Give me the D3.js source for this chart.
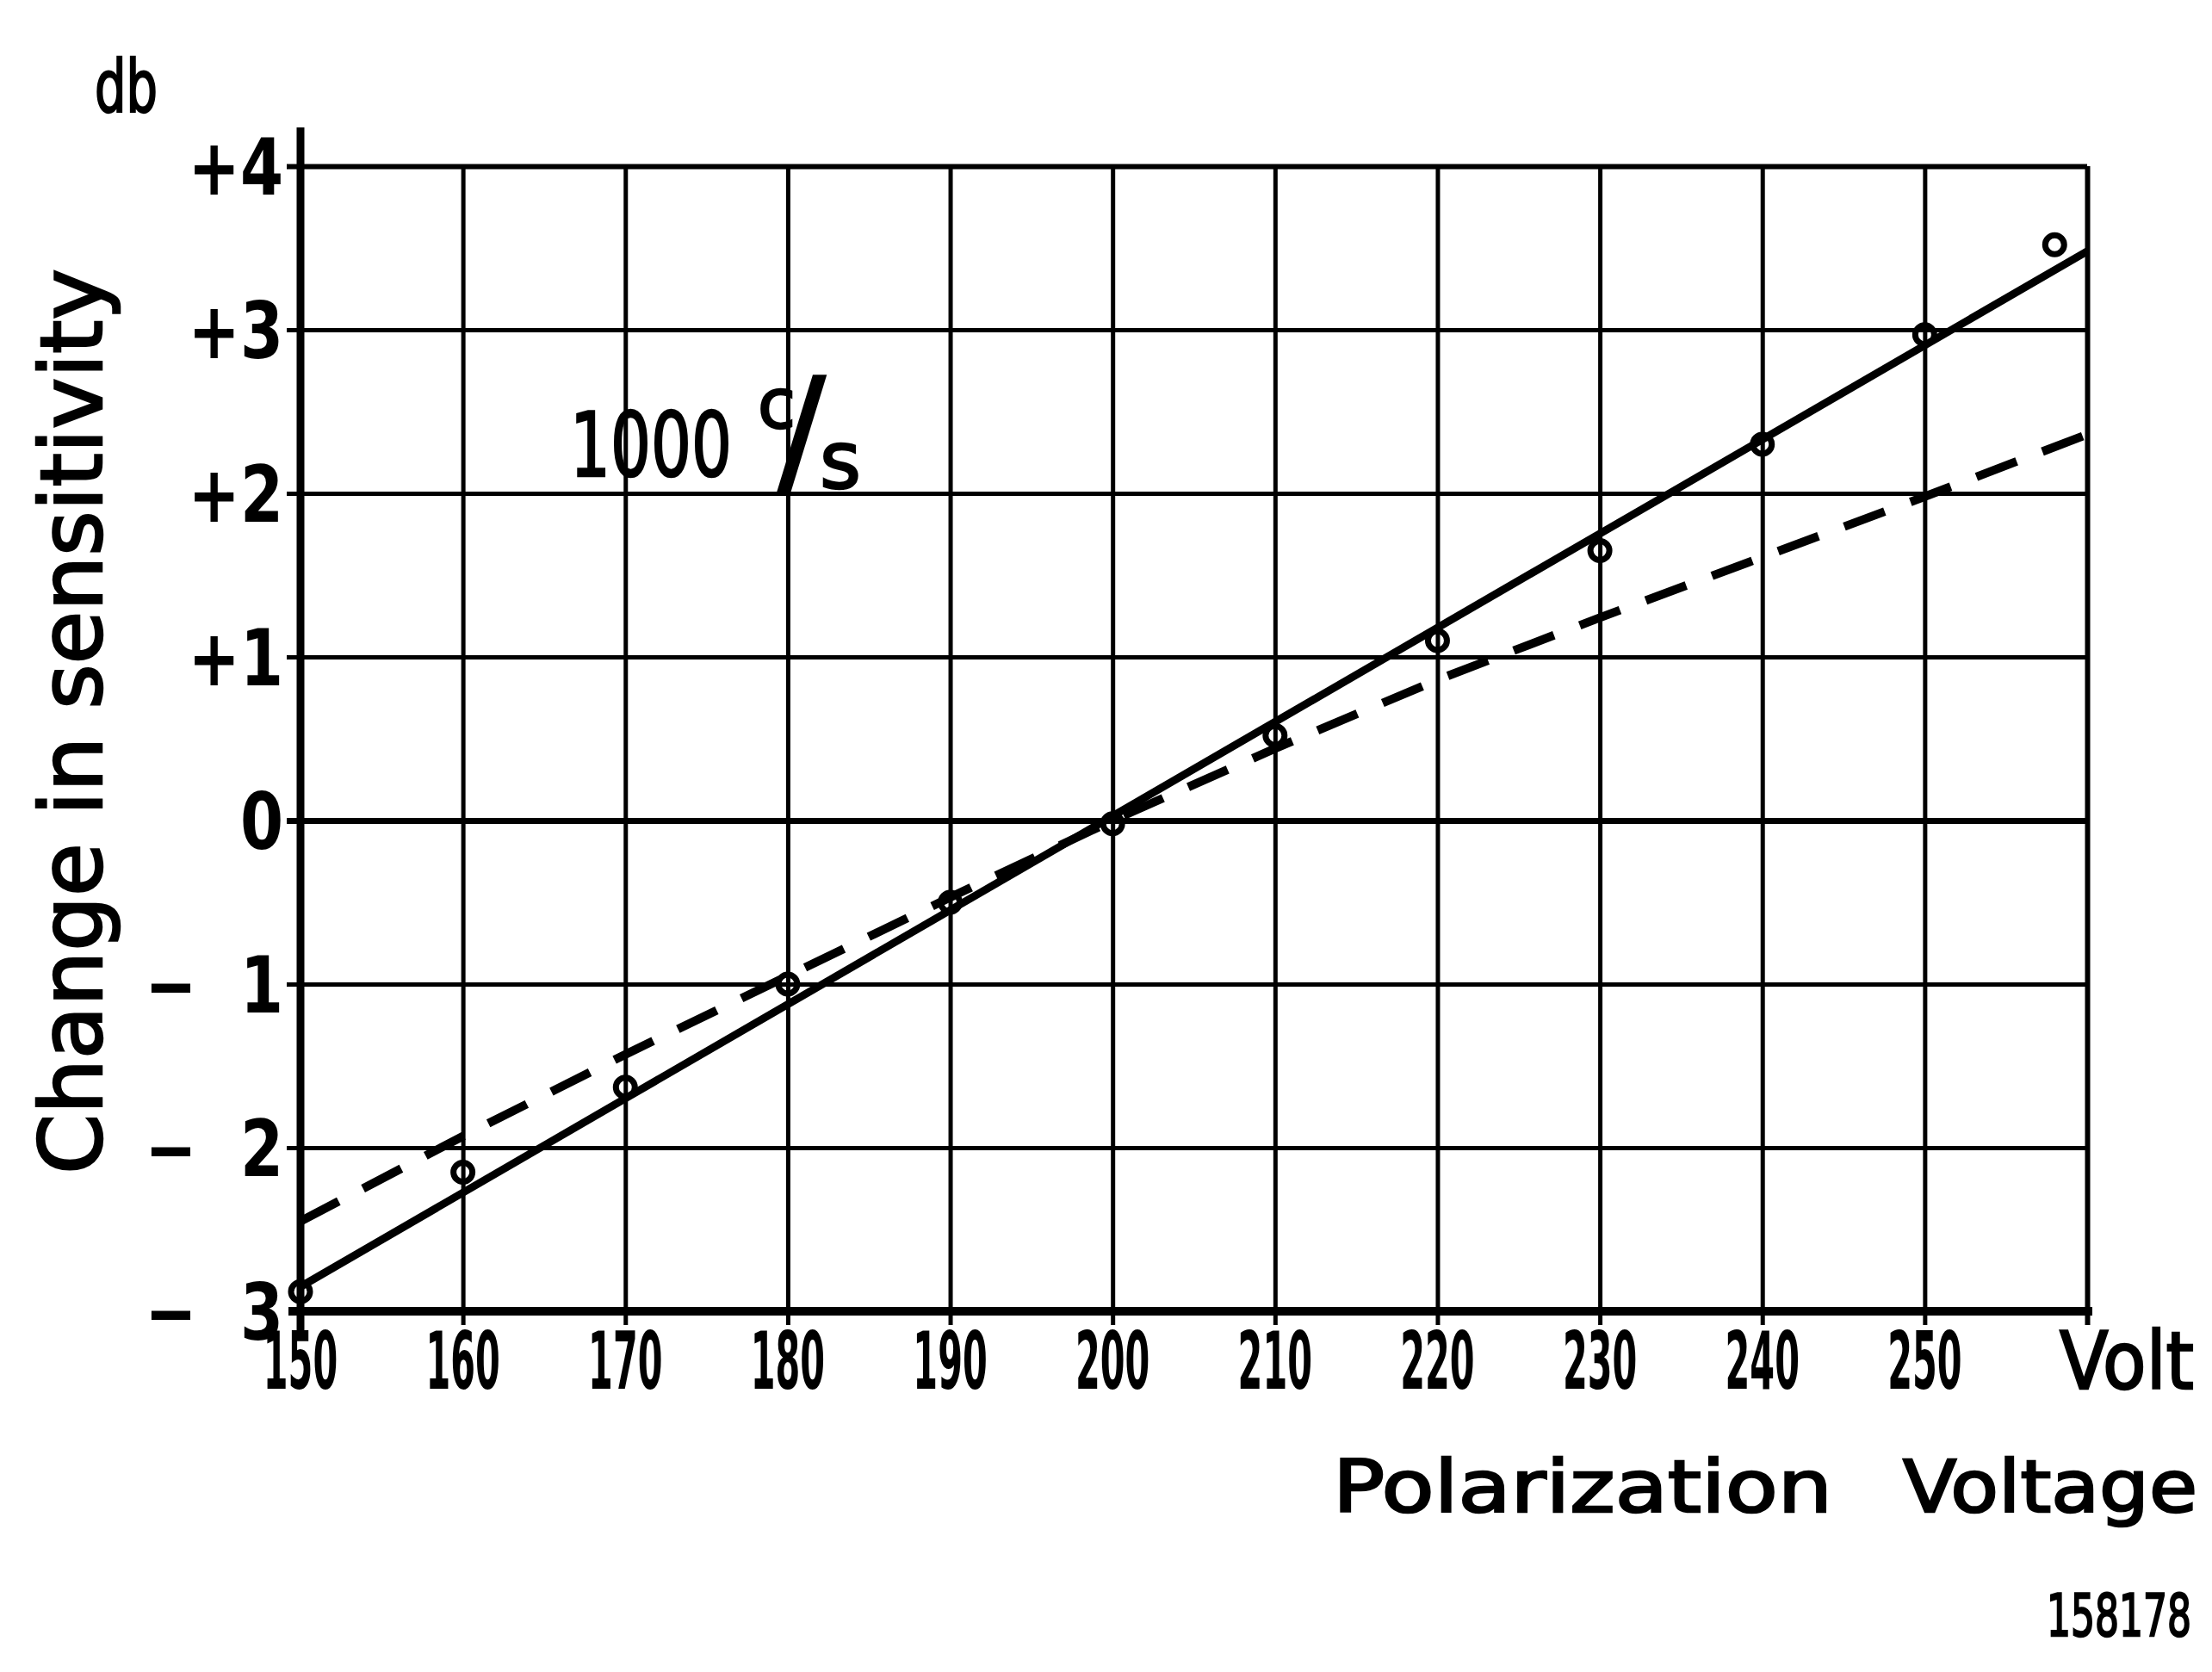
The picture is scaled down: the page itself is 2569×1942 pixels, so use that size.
<!DOCTYPE html>
<html>
<head>
<meta charset="utf-8">
<script src="https://cdn.jsdelivr.net/npm/d3@7"></script>
<style>
  body { margin: 0; background: #fff; }
  text { font-family: "DejaVu Sans", sans-serif; fill: #000; font-weight: bold; }
  text.med { font-weight: normal; stroke: #000; stroke-width: 2.5px; }
</style>
</head>
<body>
<div id="chart"></div>
<script>
(function() {
    const width = 2569,
          height = 1942;

    // ticks
    const voltTicks = [150, 160, 170, 180, 190, 200, 210, 220, 230, 240, 250];
    const dbTicks = [-3, -2, -1, 0, 1, 2, 3, 4];

    // measured points (circles)
    const measuredVolt = [150, 160, 170, 180, 190, 200, 210, 220, 230, 240, 250, 258];
    const measuredDb = [-2.88, -2.15, -1.63, -1.0, -0.5, -0.02, 0.52, 1.10, 1.65, 2.30, 2.97, 3.52];

    // solid straight line
    const solidVolt = [150, 260];
    const solidDb = [-2.85, 3.48];

    // dashed line
    const dashVolt = [150, 160, 170, 180, 190, 200, 210, 220, 230, 240, 250, 260];
    const dashDb = [-2.45, -1.93, -1.43, -0.95, -0.47, 0.0, 0.44, 0.86, 1.24, 1.61, 1.98, 2.36];

    const x = d3.scaleLinear().domain([150, 260]).range([349, 2424]);
    const y = d3.scaleLinear().domain([-3, 4]).range([1523, 193]);

    const svg = d3.select("#chart")
        .append("svg")
        .attr("width", width)
        .attr("height", height)
        .style("background", "#fff");

    // vertical grid lines (incl. right border at 260)
    const xGrid = svg.append("g")
        .attr("transform", `translate(0,${y(-3)})`)
        .call(d3.axisBottom(x)
            .tickValues(voltTicks.slice(1).concat([260]))
            .tickSize(-(y(-3) - y(4)))
            .tickFormat(""));
    xGrid.select(".domain").remove();
    xGrid.selectAll("line")
        .attr("y1", 16)
        .attr("stroke", "#000")
        .attr("stroke-width", d => d === 260 ? 6 : 5);

    // horizontal grid lines
    const yGrid = svg.append("g")
        .attr("transform", `translate(${x(150)},0)`)
        .call(d3.axisLeft(y)
            .tickValues(dbTicks.slice(1))
            .tickSize(-(x(260) - x(150)))
            .tickFormat(""));
    yGrid.select(".domain").remove();
    yGrid.selectAll("line")
        .attr("x1", -16)
        .attr("stroke", "#000")
        .attr("stroke-width", d => d === 0 ? 7 : d === 4 ? 6 : 5);

    // main axes
    svg.append("line")
        .attr("x1", x(150)).attr("x2", x(150))
        .attr("y1", y(4) - 45).attr("y2", y(-3) + 22)
        .attr("stroke", "#000").attr("stroke-width", 9);
    svg.append("line")
        .attr("x1", x(150) - 14).attr("x2", x(260) + 6)
        .attr("y1", y(-3)).attr("y2", y(-3))
        .attr("stroke", "#000").attr("stroke-width", 10);

    // lines
    const line = d3.line().x(d => x(d[0])).y(d => y(d[1]));
    svg.append("path")
        .datum(solidVolt.map((v, i) => [v, solidDb[i]]))
        .attr("d", line)
        .attr("fill", "none")
        .attr("stroke", "#000")
        .attr("stroke-width", 9);
    svg.append("path")
        .datum(dashVolt.map((v, i) => [v, dashDb[i]]))
        .attr("d", line)
        .attr("fill", "none")
        .attr("stroke", "#000")
        .attr("stroke-width", 10)
        .attr("stroke-dasharray", "50,32");

    // measured circles
    svg.selectAll(".pt")
        .data(measuredVolt.map((v, i) => [v, measuredDb[i]]))
        .enter().append("circle")
        .attr("class", "pt")
        .attr("cx", d => x(d[0]))
        .attr("cy", d => y(d[1]))
        .attr("r", 11)
        .attr("fill", "none")
        .attr("stroke", "#000")
        .attr("stroke-width", 7);

    // x tick labels
    svg.selectAll(".xlab")
        .data(voltTicks)
        .enter().append("text")
        .attr("class", "xlab")
        .attr("text-anchor", "middle")
        .attr("transform", d => `translate(${x(d)},1613) scale(0.45,1)`)
        .attr("font-size", 92)
        .text(d => d);
    svg.append("text")
        .attr("class", "med")
        .attr("x", 2392).attr("y", 1613)
        .attr("font-size", 92)
        .attr("textLength", 156).attr("lengthAdjust", "spacingAndGlyphs")
        .text("Volt");

    // y tick labels
    const yFmt = d => d > 0 ? "+" + d : d < 0 ? "\u2212\u2002\u2009" + (-d) : "0";
    svg.selectAll(".ylab")
        .data(dbTicks)
        .enter().append("text")
        .attr("class", "ylab")
        .attr("text-anchor", "end")
        .attr("transform", d => `translate(${x(150) - 20},${y(d) + 33}) scale(0.8,1)`)
        .attr("font-size", 90)
        .text(yFmt);

    // unit and titles
    svg.append("text")
        .attr("class", "med")
        .attr("x", 110).attr("y", 130)
        .attr("font-size", 84)
        .attr("textLength", 73).attr("lengthAdjust", "spacingAndGlyphs")
        .text("db");

    svg.append("text")
        .attr("class", "med")
        .attr("transform", "translate(118,838) rotate(-90)")
        .attr("text-anchor", "middle")
        .attr("font-size", 100)
        .attr("textLength", 1052).attr("lengthAdjust", "spacingAndGlyphs")
        .text("Change in sensitivity");

    svg.append("text")
        .attr("class", "med")
        .attr("x", 1548).attr("y", 1756)
        .attr("font-size", 84)
        .attr("textLength", 580).attr("lengthAdjust", "spacingAndGlyphs")
        .text("Polarization");
    svg.append("text")
        .attr("class", "med")
        .attr("x", 2552).attr("y", 1756)
        .attr("text-anchor", "end")
        .attr("font-size", 84)
        .attr("textLength", 342).attr("lengthAdjust", "spacingAndGlyphs")
        .text("Voltage");

    svg.append("text")
        .attr("class", "med")
        .attr("x", 2545).attr("y", 1900)
        .attr("text-anchor", "end")
        .attr("font-size", 68)
        .attr("textLength", 168).attr("lengthAdjust", "spacingAndGlyphs")
        .text("158178");

    // 1000 c/s annotation
    svg.append("text")
        .attr("class", "med")
        .attr("x", 662).attr("y", 553)
        .attr("font-size", 103)
        .attr("textLength", 188).attr("lengthAdjust", "spacingAndGlyphs")
        .text("1000");
    svg.append("text")
        .attr("class", "med")
        .attr("x", 880).attr("y", 497)
        .attr("font-size", 80)
        .text("c");
    svg.append("text")
        .attr("class", "med")
        .attr("x", 903).attr("y", 558)
        .attr("font-size", 165)
        .text("/");
    svg.append("text")
        .attr("class", "med")
        .attr("x", 952).attr("y", 567)
        .attr("font-size", 92)
        .text("s");
})();
</script>
</body>
</html>
